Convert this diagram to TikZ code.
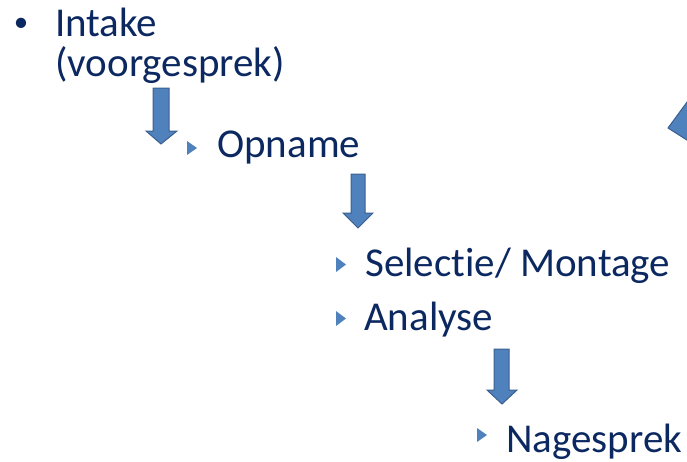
\documentclass[tikz,border=0pt]{standalone}
\usepackage{fontspec}
\setmainfont[Ligatures=NoCommon]{Carlito}
\definecolor{txt}{HTML}{0C2860}
\definecolor{abl}{HTML}{4F81BD}
\definecolor{abd}{HTML}{3A5F8F}
\begin{document}
\begin{tikzpicture}[x=1pt,y=-1pt,
  item/.style={anchor=base west,inner sep=0pt,font=\fontsize{41}{41}\selectfont,text=txt},
  tri/.style={fill=abl,draw=none},
  blockarrow/.style={fill=abl,draw=abd,line width=1pt,line join=miter}]
\useasboundingbox (0,0) rectangle (687,461);
\clip (0,0) rectangle (687,461);
% bullet and items
\node[anchor=center,inner sep=0pt,font=\fontsize{29}{29}\selectfont,text=txt] (bul) at (21,25) {•};
\node[item] (intake) at (55,36) {Intake};
\node[item] (voor) at (55,76) {(voorgesprek)};
\node[item] (opname) at (217,157) {Opname};
\node[item] (selectie) at (365,276) {Selectie/ Montage};
\node[item] (analyse) at (364,330) {Analyse};
\node[item] (nagesprek) at (506,452) {Nagesprek};
% small triangle bullets
\path[tri] (187,141) -- (197,148) -- (187,155) -- cycle;
\path[tri] (336,257) -- (346,264.5) -- (336,272) -- cycle;
\path[tri] (336,311) -- (346,318.5) -- (336,326) -- cycle;
\path[tri] (477,428) -- (487,435) -- (477,442) -- cycle;
% block arrows
\draw[blockarrow] (153,88) -- (169,88) -- (169,131) -- (177,131) -- (161,144) -- (146,131) -- (153,131) -- cycle;
\draw[blockarrow] (351,174) -- (365,174) -- (365,213) -- (373,213) -- (358,228) -- (343,213) -- (351,213) -- cycle;
\draw[blockarrow] (494,349) -- (509,349) -- (509,390) -- (517,390) -- (502,404) -- (487,390) -- (494,390) -- cycle;
% partial arrowhead at right edge
\fill[abl] (668,128) -- (690,98) -- (690,142) -- cycle;
\draw[abd,line width=1pt] (690,98) -- (668,128) -- (690,142);
\end{tikzpicture}
\end{document}
